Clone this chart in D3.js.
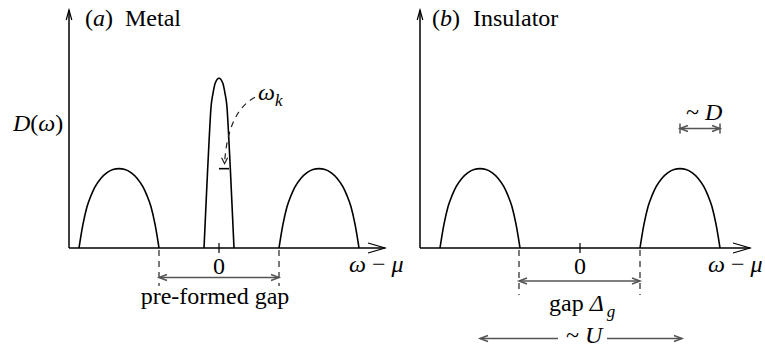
<!DOCTYPE html>
<html>
<head>
<meta charset="utf-8">
<script src="https://cdn.jsdelivr.net/npm/d3@7/dist/d3.min.js"></script>
<style>
  html, body { margin: 0; padding: 0; background: #fff; }
  svg { display: block; }
</style>
</head>
<body>
<svg id="chart" width="765" height="347"></svg>
<script>
// Spectral function sketches: (a) metal with quasiparticle peak, (b) Mott insulator.

// Hubbard band profile: offset across the band (in half-widths) and D(ω)
const hubbardT = [-1, -0.95, -0.9, -0.8, -0.7, -0.6, -0.45, -0.3, -0.15, 0, 0.15, 0.3, 0.45, 0.6, 0.7, 0.8, 0.9, 0.95, 1];
const hubbardD = [0, 0.16, 0.30, 0.52, 0.66, 0.77, 0.88, 0.95, 0.99, 1.0, 0.99, 0.95, 0.88, 0.77, 0.66, 0.52, 0.30, 0.16, 0];

// Quasiparticle peak profile at the chemical potential
const qpT = [-1, -0.9, -0.76, -0.64, -0.53, -0.4, -0.25, 0, 0.25, 0.4, 0.53, 0.64, 0.76, 0.9, 1];
const qpD = [0, 0.41, 0.98, 1.43, 1.78, 1.95, 2.08, 2.14, 2.08, 1.95, 1.78, 1.43, 0.98, 0.41, 0];

// Band centres and half-widths (energy units)
const metalCenters = [-5, 0, 5];
const metalHalfWidths = [2, 0.75, 2];
const metalKinds = ["hubbard", "qp", "hubbard"];
const insulatorCenters = [-5, 5];
const insulatorHalfWidths = [2, 2];

// Gap edges
const preformedGap = [-3, 3];
const mottGap = [-3.05, 3];
// ω_k marker inside the quasiparticle peak: energy span and level
const omegaKSpan = [0, 0.5];
const omegaKLevel = 1.0;
// Scale arrows
const bandwidthArrow = [5, 7];   // ~ D
const uArrow = [-5, 5];          // ~ U

const svg = d3.select("#chart");
const FONT = 24;
const SERIF = '"Liberation Serif"';

const y = d3.scaleLinear().domain([0, 3]).range([248, 10]);
const xa = d3.scaleLinear().domain([-7.5, 8.3]).range([69, 385]);
const xb = d3.scaleLinear().domain([-8, 8.5]).range([420, 750]);

const profiles = {
  hubbard: hubbardT.map((t, i) => [t, hubbardD[i]]),
  qp: qpT.map((t, i) => [t, qpD[i]])
};

function text(x, yy, size = FONT) {
  return svg.append("text").attr("x", x).attr("y", yy)
    .attr("font-size", size).style("font-family", SERIF);
}
function italic(sel, s) {
  return sel.append("tspan").style("font-style", "italic").text(s);
}

function bandPath(x, center, hw, kind) {
  const line = d3.line()
    .x(d => x(center + d[0] * hw))
    .y(d => y(d[1]))
    .curve(d3.curveMonotoneX);
  return line(profiles[kind]);
}

function axes(x) {
  const g = svg.append("g").attr("stroke", "#000").attr("stroke-width", 1.5).attr("fill", "none");
  const x0 = x.range()[0];
  const base = y(0);
  g.append("line").attr("x1", x0).attr("y1", base).attr("x2", x.range()[1]).attr("y2", base);
  g.append("line").attr("x1", x0).attr("y1", base).attr("x2", x0).attr("y2", y(3));
  // y arrowhead
  g.append("path").attr("d", `M${x0 - 2.8},${y(3) + 10} L${x0},${y(3)} L${x0 + 2.8},${y(3) + 10}`)
    .attr("stroke-width", 1.2);
  // x arrowhead
  const xe = x.range()[1];
  g.append("path").attr("d", `M${xe - 17},${base - 5} L${xe},${base} L${xe - 17},${base + 5}`)
    .attr("stroke-width", 1.2);
  // zero tick
  g.append("line").attr("x1", x(0)).attr("x2", x(0)).attr("y1", base - 5).attr("y2", base + 5)
    .attr("stroke-width", 1.2);
  text(x(0), 274).attr("text-anchor", "middle").text("0");
}

function axisLabel(xPos) {
  const t = text(xPos, 272);
  italic(t, "ω");
  t.append("tspan").text(" − ");
  italic(t, "μ");
}

function dashedEdge(x, e, yEnd) {
  svg.append("line").attr("x1", x(e)).attr("x2", x(e)).attr("y1", y(0) + 2).attr("y2", yEnd)
    .attr("stroke", "#222").attr("stroke-width", 1.2).attr("stroke-dasharray", "6,5");
}

function doubleArrow(x1, x2, yy, opts = {}) {
  const g = svg.append("g").attr("stroke", "#555").attr("stroke-width", 1.5).attr("fill", "none");
  const L = opts.head || 8, S = 3;
  g.append("line").attr("x1", x1).attr("x2", x2).attr("y1", yy).attr("y2", yy);
  if (opts.left !== false)
    g.append("path").attr("d", `M${x1 + L},${yy - S} L${x1},${yy} L${x1 + L},${yy + S}`);
  if (opts.right !== false)
    g.append("path").attr("d", `M${x2 - L},${yy - S} L${x2},${yy} L${x2 - L},${yy + S}`);
  if (opts.bars) {
    g.append("line").attr("x1", x1).attr("x2", x1).attr("y1", yy - 5).attr("y2", yy + 5);
    g.append("line").attr("x1", x2).attr("x2", x2).attr("y1", yy - 5).attr("y2", yy + 5);
  }
}

// ---------- (a) Metal ----------
axes(xa);
axisLabel(349);

svg.append("g").selectAll("path")
  .data(metalCenters.map((c, i) => ({ c, hw: metalHalfWidths[i], kind: metalKinds[i] })))
  .join("path")
  .attr("d", d => bandPath(xa, d.c, d.hw, d.kind))
  .attr("fill", "none").attr("stroke", "#000").attr("stroke-width", 1.6);

{
  const t = text(85, 26);
  t.append("tspan").text("(");
  italic(t, "a");
  t.append("tspan").text(")");
  text(125, 26).text("Metal");
}
{
  const t = text(13, 131);
  italic(t, "D");
  t.append("tspan").text("(");
  italic(t, "ω");
  t.append("tspan").text(")");
}

preformedGap.forEach(e => dashedEdge(xa, e, 286));
doubleArrow(xa(preformedGap[0]), xa(preformedGap[1]), 277.5);
text((xa(preformedGap[0]) + xa(preformedGap[1])) / 2 - 4, 304)
  .attr("text-anchor", "middle").text("pre-formed gap");

// ω_k marker and dashed leader
svg.append("line")
  .attr("x1", xa(omegaKSpan[0])).attr("x2", xa(omegaKSpan[1]))
  .attr("y1", y(omegaKLevel)).attr("y2", y(omegaKLevel))
  .attr("stroke", "#000").attr("stroke-width", 1.6);
{
  const tip = [xa(0.28), y(omegaKLevel) - 5];
  const start = [xa(1.8), y(1.9)];
  svg.append("path")
    .attr("d", `M${start[0]},${start[1]} Q${xa(0.45)},${y(1.72)} ${tip[0]},${tip[1] - 1}`)
    .attr("fill", "none").attr("stroke", "#222").attr("stroke-width", 1.2)
    .attr("stroke-dasharray", "6,5");
  svg.append("path")
    .attr("d", `M${tip[0] - 3},${tip[1] - 6} L${tip[0]},${tip[1]} L${tip[0] + 3},${tip[1] - 6}`)
    .attr("fill", "none").attr("stroke", "#222").attr("stroke-width", 1.2);
  const t = text(258, 100);
  italic(t, "ω");
  italic(t, "k").attr("font-size", 17).attr("dy", 6);
}

// ---------- (b) Insulator ----------
axes(xb);
axisLabel(708);

svg.append("g").selectAll("path")
  .data(insulatorCenters.map((c, i) => ({ c, hw: insulatorHalfWidths[i], kind: "hubbard" })))
  .join("path")
  .attr("d", d => bandPath(xb, d.c, d.hw, d.kind))
  .attr("fill", "none").attr("stroke", "#000").attr("stroke-width", 1.6);

{
  const t = text(432, 26);
  t.append("tspan").text("(");
  italic(t, "b");
  t.append("tspan").text(")");
  text(473, 26).text("Insulator");
}

mottGap.forEach(e => dashedEdge(xb, e, 295));
doubleArrow(xb(mottGap[0]), xb(mottGap[1]), 281);
{
  const t = text(549, 311);
  t.append("tspan").text("gap ");
  italic(t, "Δ");
  italic(t, "g").attr("font-size", 17).attr("dx", 3).attr("dy", 6);
}

// ~ D : bandwidth of a Hubbard band
doubleArrow(xb(bandwidthArrow[0]), xb(bandwidthArrow[1]), 128.5, { bars: true });
{
  const t = text(686, 120);
  t.append("tspan").text("~ ");
  italic(t, "D");
}

// ~ U : separation of the Hubbard bands
doubleArrow(xb(uArrow[0]), 558, 338.5, { right: false });
doubleArrow(607, xb(uArrow[1]) + 2, 338.5, { left: false });
{
  const t = text(566, 343);
  t.append("tspan").text("~ ");
  italic(t, "U");
}
</script>
</body>
</html>
